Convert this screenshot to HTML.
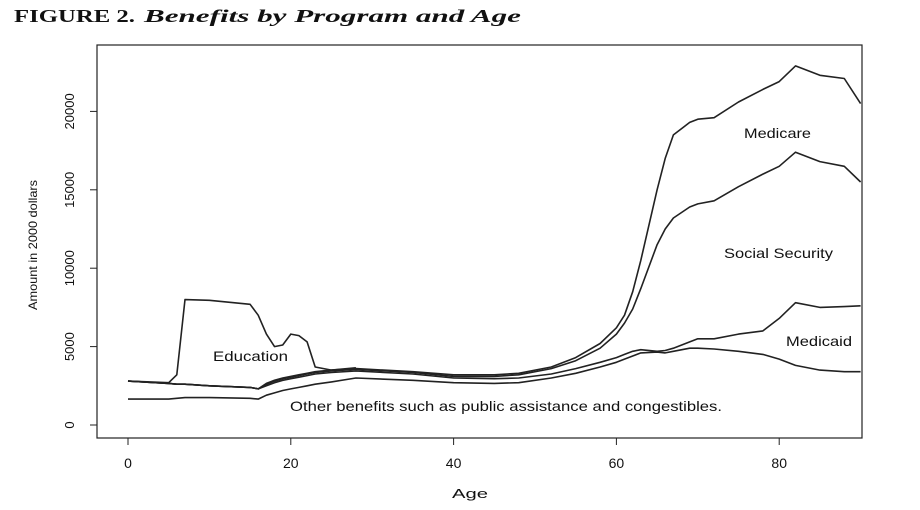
<!DOCTYPE html>
<html><head><meta charset="utf-8"><style>
body{margin:0;background:#fff;width:920px;height:510px;overflow:hidden}
svg{display:block}
text{font-family:"Liberation Sans",sans-serif;fill:#111}
</style></head><body>
<svg id="chart" width="920" height="510">
<text x="14" y="22" textLength="121" lengthAdjust="spacingAndGlyphs" style="font-family:'Liberation Serif',serif;font-weight:bold;font-size:18px">FIGURE 2.</text>
<text x="144" y="22" textLength="377" lengthAdjust="spacingAndGlyphs" style="font-family:'Liberation Serif',serif;font-weight:bold;font-style:italic;font-size:18px">Benefits by Program and Age</text>
<rect x="97" y="45" width="765" height="393" fill="none" stroke="#222" stroke-width="1.2"/>
<g id="axes"></g>
<g id="lines"></g>
<text x="213" y="361" font-size="14" textLength="75" lengthAdjust="spacingAndGlyphs">Education</text>
<text x="744" y="138" font-size="14" textLength="67" lengthAdjust="spacingAndGlyphs">Medicare</text>
<text x="724" y="258" font-size="14" textLength="109" lengthAdjust="spacingAndGlyphs">Social Security</text>
<text x="786" y="346" font-size="14" textLength="66" lengthAdjust="spacingAndGlyphs">Medicaid</text>
<text x="290" y="411" font-size="14" textLength="432" lengthAdjust="spacingAndGlyphs">Other benefits such as public assistance and congestibles.</text>
<text x="452" y="498" font-size="13" textLength="36" lengthAdjust="spacingAndGlyphs">Age</text>
<text transform="translate(37,310) rotate(-90)" font-size="12" textLength="130" lengthAdjust="spacingAndGlyphs">Amount in 2000 dollars</text>
</svg>
<script>
const ages=[0,5,6,7,10,15,16,17,18,19,20,21,22,23,25,28,35,40,45,48,52,55,58,60,61,62,63,65,66,67,69,70,72,75,78,80,82,85,88,90];
const other=[1650,1650,1700,1750,1750,1700,1650,1900,2050,2200,2300,2400,2500,2600,2750,3000,2850,2700,2650,2700,3000,3300,3700,4000,4200,4400,4600,4650,4600,4700,4900,4900,4850,4700,4500,4200,3800,3500,3400,3400];
const medicaid=[2800,2650,2600,2600,2500,2400,2300,2500,2700,2850,2950,3050,3150,3250,3350,3450,3250,3000,2950,3000,3250,3600,4000,4300,4500,4700,4800,4700,4750,4900,5300,5500,5500,5800,6000,6800,7800,7500,7550,7600];
const socialSecurity=[2800,2650,2600,2600,2500,2400,2300,2600,2800,2950,3050,3150,3250,3350,3450,3550,3350,3100,3100,3200,3600,4100,4900,5800,6500,7400,8700,11500,12500,13200,13900,14100,14300,15200,16000,16500,17400,16800,16500,15500];
const medicare=[2800,2650,2600,2600,2500,2400,2300,2650,2850,3000,3100,3200,3300,3400,3500,3600,3400,3200,3200,3300,3700,4300,5200,6200,7000,8500,10500,15000,17000,18500,19300,19500,19600,20600,21400,21900,22900,22300,22100,20500];
const education=[2800,2700,3200,8000,7950,7700,7000,5800,5000,5100,5800,5700,5300,3700,3500,3650,null,null,null,null,null,null,null,null,null,null,null,null,null,null,null,null,null,null,null,null,null,null,null,null];
const xTicks=[0,20,40,60,80];
const yTicks=[0,5000,10000,15000,20000];
const NS="http://www.w3.org/2000/svg";
function xs(a){return 128+a*8.14;}
function ys(v){return 425-v*0.01568;}
const axes=document.getElementById('axes');
function mk(tag,attrs,parent){const e=document.createElementNS(NS,tag);for(const k in attrs)e.setAttribute(k,attrs[k]);parent.appendChild(e);return e;}
xTicks.forEach(t=>{
  const l=mk('line',{x1:xs(t),x2:xs(t),y1:438,y2:445,stroke:'#222'},axes);
  
  
  const tx=mk('text',{x:xs(t),y:468,'font-size':14,'text-anchor':'middle'},axes);
  tx.textContent=t;
  
  
});
yTicks.forEach(t=>{
  const l=mk('line',{x1:90,x2:97,y1:ys(t),y2:ys(t),stroke:'#222'},axes);
  
  
  const tx=mk('text',{transform:`translate(74,${ys(t)}) rotate(-90)`,'font-size':13,'text-anchor':'middle'},axes);
  tx.textContent=t;
  
  
});
const lines=document.getElementById('lines');
const series=[['other-benefits-line',other],['medicaid-line',medicaid],['social-security-line',socialSecurity],['medicare-line',medicare],['education-line',education]];
series.forEach(([name,vals])=>{
  const pts=[];
  vals.forEach((v,i)=>{if(v!==null)pts.push(xs(ages[i]).toFixed(1)+','+ys(v).toFixed(1));});
  const p=mk('polyline',{points:pts.join(' '),fill:'none',stroke:'#222','stroke-width':1.6,'stroke-linejoin':'round'},lines);
  
  
});
</script>
</body></html>
